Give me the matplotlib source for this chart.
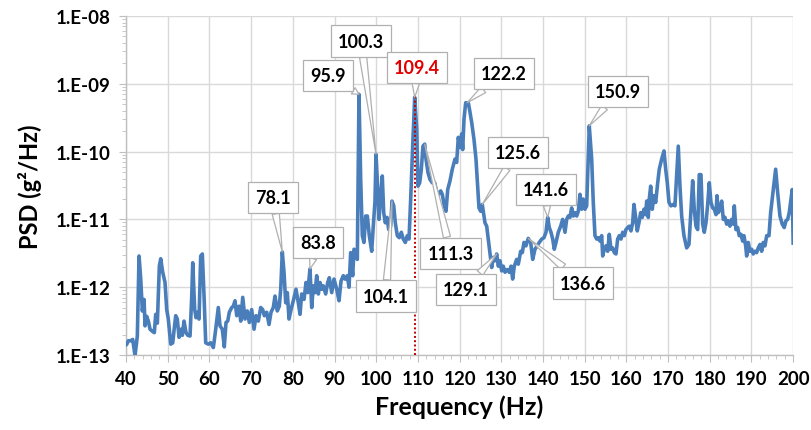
import matplotlib
matplotlib.use("Agg")
import matplotlib.pyplot as plt
import numpy as np
from matplotlib.ticker import FixedLocator, FuncFormatter, LogLocator, NullFormatter

plt.rcParams["font.family"] = ["Lato", "DejaVu Sans"]

# frequency (Hz) and log10 of PSD (g^2/Hz)
freq = [
    40.0, 40.2, 40.55, 41.13, 41.6, 42.16, 42.71, 43.12, 43.53, 43.91, 44.32, 44.56, 44.96,
    45.35, 45.76, 46.31, 46.79, 47.12, 47.51, 47.99, 48.32, 48.8, 49.35, 49.76, 50.14, 50.72,
    51.2, 51.58, 51.92, 52.3, 52.71, 53.19, 53.5, 53.91, 54.39, 54.8, 55.35, 55.76, 56.0,
    56.47, 56.79, 57.19, 57.51, 57.91, 58.3, 58.71, 59.11, 59.74, 60.31, 60.94, 61.51, 62.13,
    62.54, 63.09, 63.57, 63.98, 64.39, 64.77, 65.35, 65.73, 66.14,
    66.55, 67.1, 67.51, 67.99, 68.54, 69.09, 69.57, 70.14, 70.7, 71.18, 71.73, 72.3, 72.78,
    73.17, 73.74, 74.29, 74.77, 75.32, 75.73, 76.28, 76.76, 77.1, 77.48, 77.89, 78.3, 78.68,
    79.09, 79.57, 80.12, 80.77, 81.32, 81.73, 82.13, 82.69, 83.17, 83.57, 84.12, 84.53, 84.92,
    85.32, 85.73, 86.12, 86.52, 86.93, 87.31, 87.89, 88.37, 88.75, 89.33, 89.88, 90.53, 91.08,
    91.56, 92.11, 92.52,
    92.76, 93.07, 93.48, 93.88, 94.36, 94.68, 95.08, 95.47, 95.87, 96.28, 96.67, 97.07, 97.48,
    97.87, 98.35, 98.92, 99.3, 99.71, 99.95, 100.26, 100.67, 101.08, 101.46, 101.8, 102.18,
    102.59, 103.0, 103.48, 103.79, 104.2, 104.58, 105.06, 105.54, 106.02, 106.5, 106.98,
    107.46, 107.87, 108.27, 108.75, 109.23, 109.71, 110.02, 110.43, 110.82, 111.22, 111.63,
    111.94, 112.42, 112.9, 113.45, 114.03, 114.51, 114.99, 115.47, 115.85, 116.33, 116.74,
    117.15, 117.7, 118.25, 118.9,
    119.3, 119.69, 120.1, 120.5, 120.74, 121.06, 121.46, 122.09, 122.5, 122.9, 123.45, 123.93,
    124.34, 124.65, 125.06, 125.44, 126.09, 126.5, 126.88, 127.29, 127.7, 128.08, 128.49,
    128.9, 129.28, 129.69, 130.1, 130.48, 130.89, 131.44, 131.92, 132.33, 132.73, 133.12,
    133.69, 134.08, 134.65, 135.04, 135.44, 135.92, 136.47, 137.05, 137.53, 138.08, 138.63,
    139.11, 139.69, 140.24, 140.72, 141.13, 141.51, 141.92, 142.33, 142.71, 143.12, 143.67,
    144.24, 144.72, 145.28,
    145.68, 146.07, 146.47, 146.88, 147.27, 147.67, 148.08, 148.47, 148.87, 149.28, 149.66,
    150.07, 150.48, 151.1, 151.68, 152.06, 152.47, 152.88, 153.26, 153.67, 154.08, 154.32,
    154.7, 155.11, 155.52, 155.9, 156.31, 156.71, 157.1, 157.51, 157.91, 158.3, 158.71,
    159.11, 159.5, 159.9, 160.31, 160.7, 161.1, 161.51, 161.82, 162.23, 162.61, 163.02,
    163.43, 163.81, 164.22, 164.63, 164.87, 165.25, 165.49, 165.83, 166.21, 166.62, 167.03,
    167.51, 167.89, 168.47, 169.02, 169.43, 169.81, 170.22, 170.7, 171.25, 171.65,
    172.45, 172.85, 173.26, 173.81, 174.46, 175.01, 175.49, 175.9, 176.28, 176.69, 177.1,
    177.48, 177.89, 178.3, 178.68, 179.09, 179.5, 179.88, 180.29, 180.7, 181.08, 181.49,
    181.73, 182.04, 182.45, 182.86, 183.24, 183.65, 184.05, 184.44, 184.84, 185.25, 185.64,
    185.88, 186.28, 186.69, 187.07, 187.48, 187.89, 188.2, 188.61, 188.85, 189.23, 189.64,
    190.05, 190.43, 190.84, 191.25, 191.63, 192.04, 192.45, 192.83, 193.24, 193.65, 194.2,
    194.6, 195.23, 195.8, 196.28, 196.83, 197.38, 197.86, 198.27, 198.68, 199.06, 199.47,
    199.78, 200.0,
]
psd_log10 = [
    -12.85, -12.84, -12.79, -12.79, -12.77, -13.01, -12.72, -11.54, -11.88, -12.35, -12.18, -12.57, -12.43,
    -12.5, -12.62, -12.65, -12.67, -12.40, -12.53, -11.69, -11.58, -11.78, -11.93, -12.33, -12.47, -12.84,
    -12.82, -12.6, -12.42, -12.47, -12.74, -12.62, -12.71, -12.5, -12.67, -12.71, -12.72, -12.13, -11.64,
    -12.33, -12.45, -12.37, -12.47, -11.54, -11.51, -12.13, -12.82, -12.84, -12.82, -12.89, -12.62, -12.30,
    -12.57, -12.62, -12.88, -12.52, -12.5, -12.37, -12.3, -12.28, -12.2,
    -12.42, -12.28, -12.5, -12.15, -12.47, -12.35, -12.52, -12.33, -12.62, -12.42, -12.5, -12.30, -12.33,
    -12.42, -12.37, -12.55, -12.37, -12.30, -12.13, -12.35, -12.28, -12.03, -11.48, -11.78, -12.23, -12.08,
    -12.47, -12.33, -12.2, -12.03, -12.23, -12.40, -12.10, -12.18, -11.93, -12.08, -11.73, -12.30, -11.98,
    -12.08, -11.83, -12.10, -11.93, -12.03, -11.98, -12.10, -11.93, -11.86, -12.08, -11.88, -12.03, -12.2,
    -11.91, -11.83, -11.88,
    -11.88, -11.83, -12.0, -11.49, -11.83, -11.44, -11.47, -11.59, -9.155, -10.41, -11.24, -11.34, -10.95,
    -10.95, -11.24, -11.47, -11.10, -10.73, -10.04, -10.41, -11.0, -10.65, -10.36, -10.90, -11.05,
    -10.97, -11.15, -11.10, -10.73, -10.80, -11.05, -11.24, -11.27, -11.19, -11.29, -11.34,
    -11.24, -11.29, -10.70, -9.92, -9.20, -9.67, -10.51, -10.46, -10.26, -9.92, -9.89,
    -10.11, -10.31, -10.41, -10.46, -10.46, -10.60, -10.63, -10.58, -10.63, -10.80, -10.88,
    -10.56, -10.43, -10.26, -10.11,
    -10.16, -9.79, -9.94, -9.74, -9.97, -9.52, -9.28, -9.28, -9.42, -9.57, -9.82, -10.11,
    -10.51, -10.83, -10.88, -10.78, -11.05, -11.10, -11.29, -11.49, -11.71, -11.56, -11.61,
    -11.51, -11.69, -11.61, -11.76, -11.69, -11.78, -11.74, -11.78, -11.69, -11.88, -11.69,
    -11.59, -11.66, -11.47, -11.49, -11.34, -11.39, -11.28, -11.34, -11.59, -11.44, -11.39,
    -11.34, -11.29, -11.27, -11.19, -10.97, -11.12, -11.19, -11.29, -11.44, -11.34, -11.19,
    -11.10, -11.0, -11.19,
    -11.0, -10.95, -10.97, -10.83, -10.95, -10.90, -10.95, -10.88, -10.63, -10.85, -10.70,
    -10.85, -10.80, -9.62, -10.11, -10.75, -11.24, -11.29, -11.27, -11.32, -11.24, -11.54,
    -11.44, -11.39, -11.47, -11.22, -11.44, -11.42, -11.49, -11.51, -11.29, -11.24, -11.29,
    -11.19, -11.24, -11.15, -11.12, -11.10, -11.17, -11.05, -10.78, -10.97, -11.17, -11.05,
    -10.90, -10.97, -10.85, -10.93, -10.73, -10.97, -10.70, -10.51, -10.85, -10.65, -10.75,
    -10.46, -10.26, -10.11, -9.99, -10.26, -10.46, -10.75, -10.80, -10.78, -10.80,
    -9.92, -10.51, -10.95, -11.24, -11.42, -11.37, -10.85, -10.43, -10.85, -11.10, -11.15,
    -10.34, -10.34, -11.07, -11.19, -11.05, -10.78, -10.46, -10.75, -10.83, -10.85, -10.93,
    -10.65, -10.90, -10.85, -10.73, -11.0, -10.97, -11.07, -11.02, -11.10, -11.0, -11.07,
    -10.80, -11.15, -11.12, -11.24, -11.22, -11.32, -11.24, -11.39, -11.54, -11.34, -11.47,
    -11.44, -11.51, -11.47, -11.49, -11.42, -11.37, -11.47, -11.34, -11.39, -11.24, -11.24,
    -10.90, -10.56, -10.26, -10.60, -10.95, -11.07, -11.12, -11.02, -11.0, -10.90, -10.70,
    -10.56, -11.35,
]

# callout labels: text, point (Hz, log10 PSD), box centre (Hz, log10 PSD)
labels = ["95.9", "100.3", "109.4", "122.2", "150.9", "125.6", "141.6",
          "78.1", "83.8", "111.3", "104.1", "129.1", "136.6"]
label_pts = [(95.87, -9.155), (99.95, -10.04), (109.23, -9.20), (121.8, -9.28),
             (151.1, -9.62), (125.44, -10.78), (141.13, -10.97), (77.48, -11.48),
             (84.12, -11.73), (111.63, -9.89), (103.79, -10.73), (128.9, -11.51),
             (136.47, -11.28)]
label_boxes = [(88.4, -8.875), (96.35, -8.37), (109.8, -8.76), (130.6, -8.85),
               (158.0, -9.11), (134.0, -10.01), (140.7, -10.56), (75.25, -10.68),
               (86.0, -11.34), (117.9, -11.50), (102.35, -12.13), (121.5, -12.03),
               (149.6, -11.94)]

marker_freq = 109.4

fig, ax = plt.subplots(figsize=(8.11, 4.31), dpi=100)
fig.subplots_adjust(left=0.1554, right=0.978, bottom=0.174, top=0.9606)

psd = 10.0 ** np.array(psd_log10)
ax.plot(freq, psd, color="#4a7ebb", lw=2.6, zorder=3)

ax.plot([marker_freq, marker_freq], [1e-13, 9e-10], color="#c00000",
        lw=1.4, linestyle=(0, (1, 1.2)), zorder=4)

ax.set_yscale("log")
ax.set_xlim(40, 200)
ax.set_ylim(1e-13, 1e-8)
ax.xaxis.set_major_locator(FixedLocator(np.arange(40, 201, 10)))
ax.xaxis.set_minor_locator(FixedLocator(np.arange(40, 201, 2)))
ax.yaxis.set_major_locator(LogLocator(base=10, numticks=10))
ax.yaxis.set_minor_locator(LogLocator(base=10, subs=np.arange(2, 10), numticks=10))
ax.yaxis.set_minor_formatter(NullFormatter())
ax.yaxis.set_major_formatter(FuncFormatter(lambda v, _: f"1.E{int(round(np.log10(v))):03d}"))

ax.grid(True, which="major", color="#d9d9d9", lw=1.0, zorder=0)
for side in ["top", "right"]:
    ax.spines[side].set_visible(False)
for side in ["left", "bottom"]:
    ax.spines[side].set_color("#bfbfbf")
    ax.spines[side].set_linewidth(1.0)
ax.tick_params(axis="both", which="both", color="#bfbfbf", direction="out")
ax.tick_params(axis="both", which="major", length=5, labelsize=13.5, pad=6)
ax.tick_params(axis="both", which="minor", length=3)
for lbl in ax.get_xticklabels() + ax.get_yticklabels():
    lbl.set_fontweight("bold")

ax.set_xlabel("Frequency (Hz)", fontsize=18, fontweight="bold", labelpad=5)
ax.set_ylabel("PSD (g²/Hz)", fontsize=17, fontweight="bold", labelpad=10)

for text, (px, py), (bx, by) in zip(labels, label_pts, label_boxes):
    color = "#e00000" if text == "109.4" else "black"
    ax.annotate(
        text, xy=(px, 10.0 ** py), xytext=(bx, 10.0 ** by),
        ha="center", va="center", fontsize=13, fontweight="bold", color=color,
        bbox=dict(boxstyle="square,pad=0.4", fc="white", ec="#b0b0b0", lw=0.9),
        arrowprops=dict(arrowstyle="wedge,tail_width=0.4", fc="white", ec="#b0b0b0",
                        lw=0.9, shrinkA=0, shrinkB=0),
        zorder=5,
    )

fig.savefig("out.png", dpi=100)
